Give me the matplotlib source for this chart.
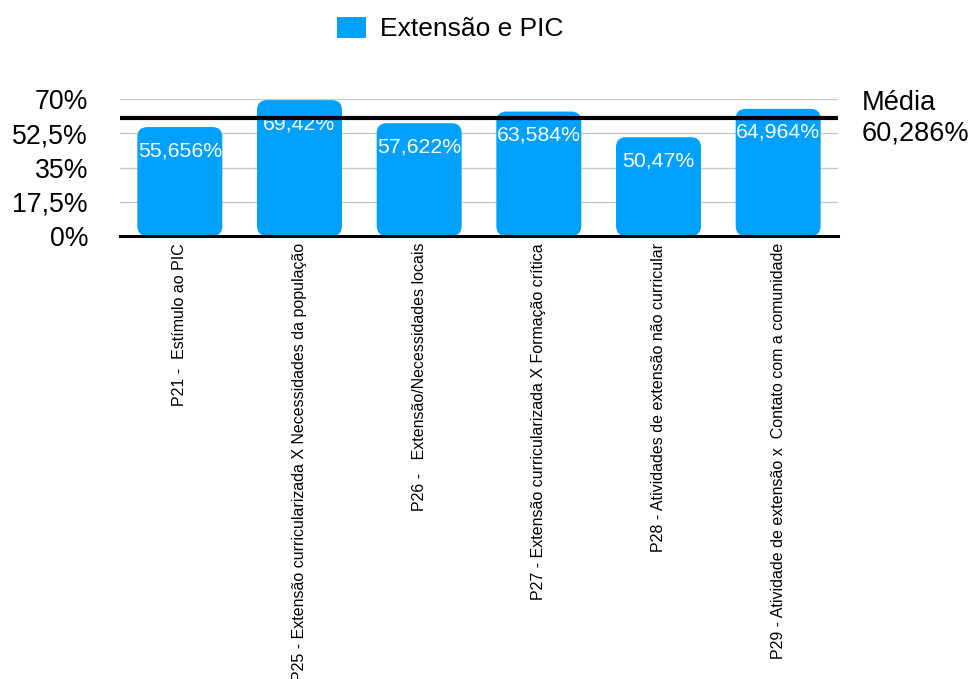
import matplotlib.pyplot as plt
from matplotlib.patches import FancyBboxPatch, Patch

plt.rcParams['font.family'] = ['Liberation Sans', 'DejaVu Sans']

# dados
categorias = [
    "P21 -  Estímulo ao PIC",
    "P25 - Extensão curricularizada X Necessidades da população",
    "P26 -   Extensão/Necessidades locais",
    "P27 - Extensão curricularizada X Formação crítica",
    "P28 - Atividades de extensão não curricular",
    "P29 - Atividade de extensão x  Contato com a comunidade",
]
valores = [55.656, 69.42, 57.622, 63.584, 50.47, 64.964]
rotulos = ["55,656%", "69,42%", "57,622%", "63,584%", "50,47%", "64,964%"]
media = 60.286
media_txt = "60,286%"
yticks = [0, 17.5, 35, 52.5, 70]
ytick_labels = ["0%", "17,5%", "35%", "52,5%", "70%"]

azul = "#00A0FF"

fig = plt.figure(figsize=(9.7, 6.79), dpi=100)
ax = fig.add_axes([120 / 970, 1 - 236 / 679, 718 / 970, 137 / 679])

x = list(range(len(categorias)))
barras = ax.bar(x, valores, width=0.71, color=azul)

# cantos arredondados
px_x = 718 / 6
px_y = 137 / 70
raio = 10 / px_x
for b in barras:
    bx, by = b.get_x(), b.get_y()
    w, h = b.get_width(), b.get_height()
    b.remove()
    p = FancyBboxPatch((bx, by), w, h,
                       boxstyle=f"round,pad=0,rounding_size={raio}",
                       mutation_aspect=px_x / px_y,
                       facecolor=azul, edgecolor="none", zorder=2, clip_on=False)
    ax.add_patch(p)

for xi, v, t in zip(x, valores, rotulos):
    ax.annotate(t, (xi, v), xytext=(0, -17), textcoords="offset points",
                ha="center", va="center", color="white", fontsize=15.3, zorder=4)

ax.set_xlim(-0.5, len(categorias) - 0.5)
ax.set_ylim(0, 70)
ax.set_yticks(yticks)
ax.set_yticklabels(ytick_labels, fontsize=19.2)
ax.set_xticks(x)
ax.set_xticklabels(categorias, rotation=90, fontsize=11.5, va="top", ha="center")
ax.tick_params(axis="y", length=0, pad=23)
ax.tick_params(axis="x", length=0, pad=5)

ax.grid(axis="y", color="#c8c8c8", linewidth=1, zorder=0)
ax.set_axisbelow(True)
for s in ["top", "right", "left"]:
    ax.spines[s].set_visible(False)
ax.spines["bottom"].set_linewidth(2.2)
ax.spines["bottom"].set_zorder(5)

ax.axhline(media, color="black", linewidth=3, zorder=5)
ax.text(1.033, 1 - (103 - 99) / 137, "Média", transform=ax.transAxes,
        fontsize=19.6, va="center", ha="left")
ax.text(1.033, 1 - (133 - 99) / 137, media_txt, transform=ax.transAxes,
        fontsize=19.6, va="center", ha="left")

fig.legend(handles=[Patch(facecolor=azul, label="Extensão e PIC")],
           loc="center", bbox_to_anchor=(0.464, 1 - 29 / 679), frameon=False,
           fontsize=19, handlelength=1.1, handleheight=0.87, handletextpad=0.5)

fig.savefig("out.png", dpi=100)
